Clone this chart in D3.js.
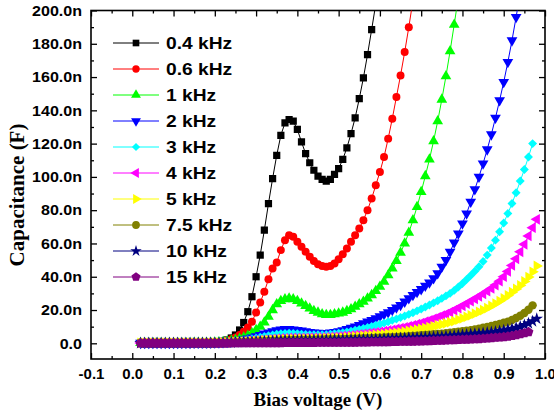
<!DOCTYPE html>
<html>
<head>
<meta charset="utf-8">
<script src="https://cdn.jsdelivr.net/npm/d3@7"></script>
<style>
body { margin: 0; background: #fff; }
</style>
</head>
<body>
<script>
//Data (capacitance in nF, one value per bias step)
var labels = ["0.4 kHz", "0.6 kHz", "1 kHz", "2 kHz", "3 kHz", "4 kHz", "5 kHz", "7.5 kHz", "10 kHz", "15 kHz"];

var voltage = [0.02,0.03,0.04,0.05,0.06,0.07,0.08,0.09,0.10,0.11,0.12,0.13,0.14,0.15,0.16,0.17,0.18,0.19,
  0.20,0.21,0.22,0.23,0.24,0.25,0.26,0.27,0.28,0.29,0.30,0.31,0.32,0.33,0.34,0.35,0.36,0.37,0.38,0.39,
  0.40,0.41,0.42,0.43,0.44,0.45,0.46,0.47,0.48,0.49,0.50,0.51,0.52,0.53,0.54,0.55,0.56,0.57,0.58,0.59,
  0.60,0.61,0.62,0.63,0.64,0.65,0.66,0.67,0.68,0.69,0.70,0.71,0.72,0.73,0.74,0.75,0.76,0.77,0.78,0.79,
  0.80,0.81,0.82,0.83,0.84,0.85,0.86,0.87,0.88,0.89,0.90,0.91,0.92,0.93,0.94,0.95,0.96,0.97,0.98];

var c04 = [0.3,0.3,0.3,0.3,0.3,0.3,0.3,0.3,0.3,0.3,0.3,0.3,0.3,0.4,0.4,0.4,0.5,0.5,
  0.6,0.8,1.2,2,3.2,5,8,12.5,19,28,40,53,68,84,99,113,125,132.5,134.5,133.5,
  128.5,121,114,108.5,104,100.5,98.5,97.5,98.5,101.5,105,110.5,117.5,126,135.5,147,159.5,173.5,188.5,204];

var c06 = [0.3,0.3,0.3,0.3,0.3,0.3,0.3,0.3,0.3,0.3,0.3,0.3,0.3,0.4,0.4,0.4,0.5,0.5,
  0.6,0.8,1.1,1.6,2.4,3.5,5,7,9.5,13,18.5,24.5,31,38.5,45,48.5,56,62,65,64,
  61,58,55,52,49.5,47.5,46.5,46,46.5,48,50.5,53.5,57,61,65,69,74,80,87,95,
  103,112,123,135,148,161,175,190,206];

var c1 = [0.2,0.2,0.2,0.2,0.2,0.2,0.2,0.2,0.2,0.2,0.2,0.2,0.2,0.3,0.3,0.3,0.4,0.4,
  0.5,0.6,0.8,1.1,1.5,2,2.7,3.5,4.5,6,8,10,12.5,16,20,23.5,25.5,26.5,27,26.5,
  25.5,24,22.5,21,19.5,18.5,17.5,17,17,17.5,18,18.5,19.5,20.5,22,23.5,25,27,29,31.5,
  34,37,41,45,49.5,54.5,60,66.5,74,82,91,100.5,110.5,121.5,133.5,146.5,160.5,175.5,191.5,208];

var c2 = [0.2,0.2,0.2,0.2,0.2,0.2,0.2,0.2,0.2,0.2,0.2,0.2,0.2,0.3,0.3,0.3,0.3,0.3,
  0.4,0.5,0.6,0.8,1,1.3,1.7,2.2,2.8,3.5,4.2,5,5.8,6.5,7.2,7.8,8.2,8.5,8.5,8.3,
  8,7.6,7.2,6.8,6.5,6.3,6.2,6.2,6.4,6.8,7.2,7.8,8.5,9.3,10,11,12,13,14,15,
  16.2,17.4,18.6,20,21.5,23,25,27,29,30.8,32.5,34.5,36.5,39,42,46,50,55,60.5,66,
  72,78,85,92.5,100,108,116.5,125.5,135.5,146,157,169,182,196,211];

var c3 = [0.2,0.2,0.2,0.2,0.2,0.2,0.2,0.2,0.2,0.2,0.2,0.2,0.2,0.2,0.2,0.2,0.2,0.2,
  0.3,0.4,0.5,0.6,0.8,1,1.3,1.7,2.1,2.6,3.1,3.6,4.1,4.6,5,5.4,5.7,5.9,6,5.9,
  5.7,5.5,5.3,5.2,5.1,5.1,5.1,5.2,5.4,5.7,6,6.4,6.8,7.3,7.8,8.3,8.9,9.5,10.1,10.8,
  11.5,12.2,13,13.8,14.6,15.5,16.4,17.4,18.4,19.5,20.6,21.8,23,24.3,25.6,27,28.5,30,31.8,33.8,
  36,38.3,40.7,43.3,46,49.2,53,57.3,62,67,72.3,78,84,90.5,97.5,104.5,112,120];

var c4 = [0.2,0.2,0.2,0.2,0.2,0.2,0.2,0.2,0.2,0.2,0.2,0.2,0.2,0.2,0.2,0.2,0.2,0.2,
  0.3,0.4,0.5,0.6,0.7,0.8,1,1.2,1.4,1.6,1.8,2,2.2,2.4,2.6,2.8,3,3.1,3.2,3.3,
  3.3,3.3,3.3,3.4,3.4,3.5,3.6,3.7,3.8,4,4.2,4.4,4.6,4.8,5,5.3,5.6,5.9,6.2,6.5,
  6.9,7.3,7.7,8.1,8.6,9.1,9.6,10.2,10.8,11.5,12.2,13,13.8,14.7,15.6,16.6,17.6,18.7,19.9,21.2,
  22.5,23.9,25.3,26.7,28.2,29.7,31.3,33,35,37.3,40,43.2,46.8,50.8,55,59.5,64.5,69.5,74.5];

var c5 = [0.2,0.2,0.2,0.2,0.2,0.2,0.2,0.2,0.2,0.2,0.2,0.2,0.2,0.2,0.2,0.2,0.2,0.2,
  0.3,0.35,0.4,0.5,0.6,0.7,0.8,0.9,1,1.1,1.3,1.5,1.7,1.9,2.1,2.2,2.3,2.4,2.5,2.5,
  2.5,2.6,2.6,2.6,2.7,2.8,2.9,3,3.1,3.2,3.3,3.4,3.6,3.8,4,4.2,4.4,4.6,4.8,5,
  5.2,5.4,5.7,6,6.3,6.6,7,7.4,7.8,8.2,8.7,9.2,9.7,10.2,10.8,11.4,12,12.7,13.4,14.2,
  15,15.9,16.8,17.8,18.9,20,21.2,22.5,23.9,25.4,27,28.8,30.7,32.7,34.8,37.2,39.8,43,46.5];

var c75 = [0.2,0.2,0.2,0.2,0.2,0.2,0.2,0.2,0.2,0.2,0.2,0.2,0.2,0.2,0.2,0.2,0.2,0.2,
  0.3,0.3,0.4,0.4,0.5,0.6,0.7,0.8,0.9,1,1.1,1.2,1.3,1.4,1.5,1.6,1.7,1.8,1.9,2,
  2,2.1,2.1,2.2,2.2,2.3,2.3,2.4,2.4,2.5,2.5,2.6,2.6,2.7,2.8,2.9,3,3.1,3.2,3.3,
  3.4,3.5,3.6,3.7,3.8,3.9,4,4.2,4.4,4.6,4.8,5,5.2,5.4,5.6,5.8,6,6.3,6.6,6.9,
  7.2,7.5,7.9,8.3,8.8,9.3,9.8,10.4,11,11.6,12.3,13,14,15.2,16.6,18.2,20.2,22.8];

var c10 = [0.1,0.1,0.1,0.1,0.1,0.1,0.1,0.1,0.1,0.1,0.1,0.1,0.1,0.1,0.1,0.1,0.1,0.1,
  0.2,0.2,0.3,0.3,0.4,0.5,0.6,0.7,0.8,0.9,1,1.1,1.2,1.3,1.4,1.5,1.5,1.6,1.6,1.7,
  1.7,1.8,1.8,1.8,1.9,1.9,2,2,2,2.1,2.1,2.2,2.2,2.3,2.3,2.4,2.4,2.5,2.5,2.6,
  2.6,2.7,2.8,2.9,3,3.1,3.2,3.3,3.4,3.5,3.6,3.7,3.8,3.9,4,4.1,4.3,4.5,4.7,4.9,
  5.1,5.3,5.5,5.7,5.9,6.1,6.4,6.7,7,7.4,7.8,8.3,8.8,9.4,10.1,11,12,13.2,14.8];

var c15 = [0,0,0,0,0,0,0,0,0,0,0,0,0,0,0,0,0,0,
  0,0,0,0,0.1,0.1,0.1,0.1,0.1,0.1,0.2,0.2,0.2,0.2,0.2,0.2,0.2,0.3,0.3,0.3,
  0.3,0.3,0.3,0.3,0.3,0.4,0.4,0.4,0.4,0.4,0.4,0.5,0.5,0.5,0.5,0.6,0.6,0.6,0.7,0.7,
  0.7,0.8,0.8,0.9,0.9,1,1,1.1,1.1,1.2,1.2,1.3,1.4,1.5,1.6,1.7,1.8,1.9,2,2.1,
  2.2,2.3,2.4,2.5,2.6,2.8,3,3.2,3.4,3.6,3.8,4.1,4.5,5,5.5,6.1,6.8];

var series = [c04, c06, c1, c2, c3, c4, c5, c75, c10, c15];

var yTicks = [0, 20, 40, 60, 80, 100, 120, 140, 160, 180, 200];
var xTicks = [-0.1, 0.0, 0.1, 0.2, 0.3, 0.4, 0.5, 0.6, 0.7, 0.8, 0.9, 1.0];

//Styles
var colors = ["#000000", "#ff0000", "#00ff00", "#0000ff", "#00ffff", "#ff00ff", "#ffff00", "#808000", "#000080", "#800080"];

var symbolPentagon = {
  draw: function(context, size) {
    var r = Math.sqrt(size / 2.3776);
    for (var i = 0; i < 5; i++) {
      var a = -Math.PI / 2 + i * 2 * Math.PI / 5;
      if (i === 0) context.moveTo(r * Math.cos(a), r * Math.sin(a));
      else context.lineTo(r * Math.cos(a), r * Math.sin(a));
    }
    context.closePath();
  }
};

var shapes = [
  {type: d3.symbolSquare, size: 52, rot: 0},
  {type: d3.symbolCircle, size: 50, rot: 0},
  {type: d3.symbolTriangle, size: 50, rot: 0},
  {type: d3.symbolTriangle, size: 50, rot: 180},
  {type: d3.symbolSquare, size: 40, rot: 45},
  {type: d3.symbolTriangle, size: 50, rot: -90},
  {type: d3.symbolTriangle, size: 50, rot: 90},
  {type: d3.symbolCircle, size: 56, rot: 0},
  {type: d3.symbolStar, size: 48, rot: 0},
  {type: symbolPentagon, size: 64, rot: 0}
];

//Set the dimensions
var width = 554, height = 419;
var plot = {left: 91, right: 545, top: 10.5, bottom: 359};

var x = d3.scaleLinear().domain([-0.1, 1.0]).range([plot.left, plot.right]);
var y = d3.scaleLinear().domain([-9.43, 200]).range([plot.bottom, plot.top]);

var svg = d3.select("body")
  .append("svg")
    .attr("width", width)
    .attr("height", height)
    .style("font-family", "'Liberation Sans', Arial, sans-serif");

svg.append("clipPath")
    .attr("id", "clip")
  .append("rect")
    .attr("x", plot.left)
    .attr("y", plot.top)
    .attr("width", plot.right - plot.left)
    .attr("height", plot.bottom - plot.top);

var fmtY = function(d) { return d === 0 ? "0.0" : d.toFixed(1) + "n"; };
var fmtX = function(d) { return d.toFixed(1); };

var minorY = d3.range(10, 200, 20);
var minorX = d3.range(-0.05, 1.0, 0.1);

function styleAxis(g) {
  g.select(".domain").remove();
  g.selectAll("line").attr("stroke", "#000").attr("stroke-width", 1.3);
  g.selectAll("text")
    .attr("fill", "#000")
    .style("font-size", "15px")
    .style("font-weight", "bold");
}

//Left axis
svg.append("g")
  .attr("transform", "translate(" + plot.left + ",0)")
  .call(d3.axisLeft(y).tickValues(yTicks).tickFormat(fmtY).tickSizeInner(-6).tickSizeOuter(0).tickPadding(9))
  .call(styleAxis)
  .selectAll("text")
    .each(function() {
      var w = this.getComputedTextLength();
      d3.select(this).attr("textLength", w * 1.07).attr("lengthAdjust", "spacingAndGlyphs");
    });
svg.append("g")
  .attr("transform", "translate(" + plot.left + ",0)")
  .call(d3.axisLeft(y).tickValues(minorY).tickFormat("").tickSizeInner(-3).tickSizeOuter(0))
  .call(styleAxis);

//Right axis (mirror ticks)
svg.append("g")
  .attr("transform", "translate(" + plot.right + ",0)")
  .call(d3.axisRight(y).tickValues(yTicks).tickFormat("").tickSizeInner(-6).tickSizeOuter(0))
  .call(styleAxis);
svg.append("g")
  .attr("transform", "translate(" + plot.right + ",0)")
  .call(d3.axisRight(y).tickValues(minorY).tickFormat("").tickSizeInner(-3).tickSizeOuter(0))
  .call(styleAxis);

//Bottom axis
svg.append("g")
  .attr("transform", "translate(0," + plot.bottom + ")")
  .call(d3.axisBottom(x).tickValues(xTicks).tickFormat(fmtX).tickSizeInner(-6).tickSizeOuter(0).tickPadding(9))
  .call(styleAxis);
svg.append("g")
  .attr("transform", "translate(0," + plot.bottom + ")")
  .call(d3.axisBottom(x).tickValues(minorX).tickFormat("").tickSizeInner(-3).tickSizeOuter(0))
  .call(styleAxis);

//Top axis (mirror ticks)
svg.append("g")
  .attr("transform", "translate(0," + plot.top + ")")
  .call(d3.axisTop(x).tickValues(xTicks).tickFormat("").tickSizeInner(-6).tickSizeOuter(0))
  .call(styleAxis);
svg.append("g")
  .attr("transform", "translate(0," + plot.top + ")")
  .call(d3.axisTop(x).tickValues(minorX).tickFormat("").tickSizeInner(-3).tickSizeOuter(0))
  .call(styleAxis);

//Frame
svg.append("rect")
  .attr("x", plot.left)
  .attr("y", plot.top)
  .attr("width", plot.right - plot.left)
  .attr("height", plot.bottom - plot.top)
  .attr("fill", "none")
  .attr("stroke", "#000")
  .attr("stroke-width", 1.6);

//Curves
var line = d3.line()
  .x(function(d) { return x(d.v); })
  .y(function(d) { return y(d.c); });

var plotArea = svg.append("g").attr("clip-path", "url(#clip)");

series.forEach(function(vals, k) {
  var pts = vals.map(function(c, i) { return {v: voltage[i], c: c}; });
  var g = plotArea.append("g");
  g.append("path")
    .datum(pts)
    .attr("fill", "none")
    .attr("stroke", colors[k])
    .attr("stroke-width", 1)
    .attr("d", line);
  g.selectAll("path.pt")
    .data(pts)
    .enter().append("path")
      .attr("class", "pt")
      .attr("d", d3.symbol().type(shapes[k].type).size(shapes[k].size))
      .attr("transform", function(d) { return "translate(" + x(d.v) + "," + y(d.c) + ") rotate(" + shapes[k].rot + ")"; })
      .attr("fill", colors[k]);
});

//Legend
var legend = svg.append("g");
labels.forEach(function(lab, k) {
  var ly = 43 + k * 26;
  legend.append("line")
    .attr("x1", 113).attr("x2", 159)
    .attr("y1", ly).attr("y2", ly)
    .attr("stroke", colors[k])
    .attr("stroke-width", 1);
  legend.append("path")
    .attr("d", d3.symbol().type(shapes[k].type).size(shapes[k].size * 0.85))
    .attr("transform", "translate(136," + ly + ") rotate(" + shapes[k].rot + ")")
    .attr("fill", colors[k]);
  var t = legend.append("text")
    .attr("x", 166)
    .attr("y", ly)
    .attr("dy", "0.36em")
    .style("font-size", "17px")
    .style("font-weight", "bold")
    .text(lab);
  var w = t.node().getComputedTextLength();
  t.attr("textLength", w * 1.13).attr("lengthAdjust", "spacingAndGlyphs");
});

//Axis titles
svg.append("text")
  .attr("x", 318)
  .attr("y", 406)
  .attr("text-anchor", "middle")
  .style("font-family", "'Liberation Serif', 'Times New Roman', serif")
  .style("font-weight", "bold")
  .style("font-size", "19px")
  .text("Bias voltage (V)");

svg.append("text")
  .attr("transform", "translate(24,195) rotate(-90)")
  .attr("text-anchor", "middle")
  .style("font-family", "'Liberation Serif', 'Times New Roman', serif")
  .style("font-weight", "bold")
  .style("font-size", "21px")
  .text("Capacitance (F)");
</script>
</body>
</html>
